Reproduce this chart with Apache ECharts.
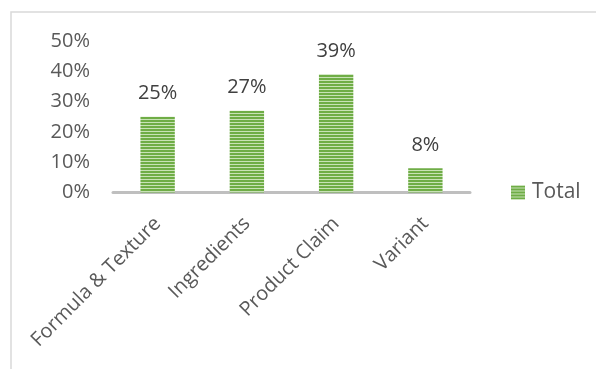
<!DOCTYPE html>
<html>
<head>
<meta charset="utf-8">
<script src="https://cdn.jsdelivr.net/npm/echarts@6/dist/echarts.min.js"></script>
<style>
  html, body { margin: 0; padding: 0; background: #ffffff; }
  #chart { width: 596px; height: 369px; }
</style>
</head>
<body>
<div id="chart"></div>
<script>
// Share of mentions by topic
const categories = ['Formula & Texture', 'Ingredients', 'Product Claim', 'Variant'];
const totalValues = [25, 27, 39, 8];
const seriesName = 'Total';

// Horizontal-stripe fill for the bars
function stripePattern() {
  const c = document.createElement('canvas');
  c.width = 4; c.height = 3;
  const g = c.getContext('2d');
  g.fillStyle = '#c8e2b6';
  g.fillRect(0, 0, 4, 3);
  g.fillStyle = '#6fad46';
  g.fillRect(0, 0, 4, 2);
  return c;
}
const fill = { image: stripePattern(), repeat: 'repeat' };

const FONT = '"Open Sans", "Segoe UI", sans-serif';

const chart = echarts.init(document.getElementById('chart'), null, { renderer: 'canvas' });
chart.setOption({
  animation: false,
  backgroundColor: '#ffffff',
  textStyle: { fontFamily: FONT },
  graphic: [{
    type: 'rect',
    shape: { x: 11, y: 12, width: 620, height: 400 },
    style: { fill: 'none', stroke: '#d9d9d9', lineWidth: 1.5 },
    silent: true
  }],
  grid: { left: 113, right: 126, top: 41, bottom: 176.5, containLabel: false },
  legend: {
    data: [{ name: seriesName, itemStyle: { color: fill } }],
    orient: 'vertical',
    left: 511,
    top: 182,
    padding: 0,
    icon: 'rect',
    itemWidth: 14,
    itemHeight: 14,
    itemGap: 4,
    textStyle: { fontSize: 21, color: '#595959', fontFamily: FONT, padding: [0, 0, 0, 2] }
  },
  xAxis: {
    type: 'category',
    data: categories,
    axisLine: { lineStyle: { color: '#bfbfbf', width: 3 } },
    axisTick: { show: false },
    axisLabel: {
      rotate: 45,
      interval: 0,
      margin: 28,
      fontSize: 20,
      color: '#595959',
      fontFamily: FONT
    }
  },
  yAxis: {
    type: 'value',
    min: 0,
    max: 50,
    interval: 10,
    axisLine: { show: false },
    axisTick: { show: false },
    splitLine: { show: false },
    axisLabel: {
      formatter: '{value}%',
      margin: 23,
      fontSize: 20,
      color: '#595959',
      fontFamily: FONT
    }
  },
  series: [{
    name: seriesName,
    type: 'bar',
    data: totalValues,
    barWidth: '38.5%',
    itemStyle: { color: fill },
    label: {
      show: true,
      position: 'top',
      distance: 13,
      formatter: p => p.value + '%',
      fontSize: 20,
      color: '#404040',
      fontFamily: FONT
    }
  }]
});
</script>
</body>
</html>
